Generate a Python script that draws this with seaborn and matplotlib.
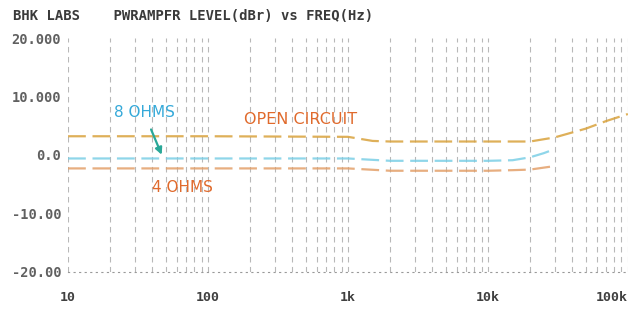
import matplotlib
matplotlib.use("Agg")
import matplotlib.pyplot as plt
import matplotlib.transforms as mtransforms
import seaborn as sns
import pandas as pd

# Data (freq in Hz, level in dBr)
open_freq = [10, 100, 1000, 1500, 2000, 10000, 20000, 30000, 50000, 70000, 100000]
open_db = [3.2, 3.2, 3.1, 2.4, 2.3, 2.3, 2.3, 3.0, 4.5, 5.8, 7.0]

ohm8_freq = [10, 100, 1000, 2000, 10000, 15000, 20000, 25000, 30000]
ohm8_db = [-0.6, -0.6, -0.6, -1.0, -1.0, -0.9, -0.4, 0.3, 1.0]

ohm4_freq = [10, 100, 1000, 2000, 10000, 15000, 20000, 30000]
ohm4_db = [-2.3, -2.3, -2.3, -2.7, -2.7, -2.6, -2.5, -1.9]

y_ticks = [20, 10, 0, -10, -20]
y_labels = ["20.000", "10.000", "0.0", "-10.00", "-20.00"]
x_ticks = [10, 100, 1000, 10000, 100000]
x_labels = ["10", "100", "1k", "10k", "100k"]

df = pd.concat([
    pd.DataFrame({"freq": open_freq, "level": open_db, "load": "open"}),
    pd.DataFrame({"freq": ohm8_freq, "level": ohm8_db, "load": "8"}),
    pd.DataFrame({"freq": ohm4_freq, "level": ohm4_db, "load": "4"}),
])

sns.set_style("white")
fig = plt.figure(figsize=(6.42, 3.09), dpi=100)
ax = fig.add_axes([0.106, 0.12, 0.872, 0.757])

palette = {"open": "#d9a23c", "8": "#7ccfe6", "4": "#e3a06a"}
sns.lineplot(data=df, x="freq", y="level", hue="load", palette=palette,
             linewidth=1.6, alpha=0.85, legend=False, ax=ax)
for line in ax.get_lines():
    line.set_dashes([8, 3])

ax.set_xscale("log")
ax.set_xlim(10, 100000)
ax.set_ylim(-20, 20)

for s in ["top", "right", "left"]:
    ax.spines[s].set_visible(False)
ax.spines["bottom"].set_linestyle((0, (1, 4)))
ax.spines["bottom"].set_color("#999999")
ax.spines["bottom"].set_linewidth(0.8)

mono = {"family": "DejaVu Sans Mono", "weight": "bold"}
ax.set_yticks(y_ticks)
ax.set_yticklabels(y_labels, fontdict=mono, fontsize=9.8, color="#606060")
ax.set_xticks(x_ticks)
ax.set_xticklabels(x_labels, fontdict=mono, fontsize=9.5, color="#404040")
ax.set_xticks([m * d for d in [10, 100, 1000, 10000] for m in range(2, 10)], minor=True)
# keep "100k" inside the figure edge
last = ax.get_xticklabels()[-1]
last.set_ha("right")
last.set_transform(last.get_transform() +
                   mtransforms.ScaledTranslation(12 / 100, 0, fig.dpi_scale_trans))

# dashed vertical grid like the old plotter chart
ax.xaxis.grid(True, which="both", color="#9a9a9a", linestyle=(0, (5, 4)),
              linewidth=0.8, alpha=0.7)
ax.yaxis.grid(False)
ax.tick_params(axis="both", which="both", length=0)
ax.tick_params(axis="x", pad=14)
ax.tick_params(axis="y", pad=5)
ax.set_xlabel("")
ax.set_ylabel("")

fig.text(0.02, 0.935, "BHK LABS    PWRAMPFR LEVEL(dBr) vs FREQ(Hz)",
         fontsize=10, color="#3a3a3a", **mono)

ax.text(35, 7.3, "8 OHMS", color="#35a9d9", fontsize=11, ha="center", va="center")
ax.text(460, 6.0, "OPEN CIRCUIT", color="#e06a2c", fontsize=11.5, ha="center", va="center")
ax.text(66, -5.6, "4 OHMS", color="#e06a2c", fontsize=11, ha="center", va="center")
ax.annotate("", xy=(47.5, -0.4), xytext=(38.5, 4.8),
            arrowprops=dict(arrowstyle="-|>", color="#2aa898", lw=1.6))

fig.savefig("out.png", dpi=100)
